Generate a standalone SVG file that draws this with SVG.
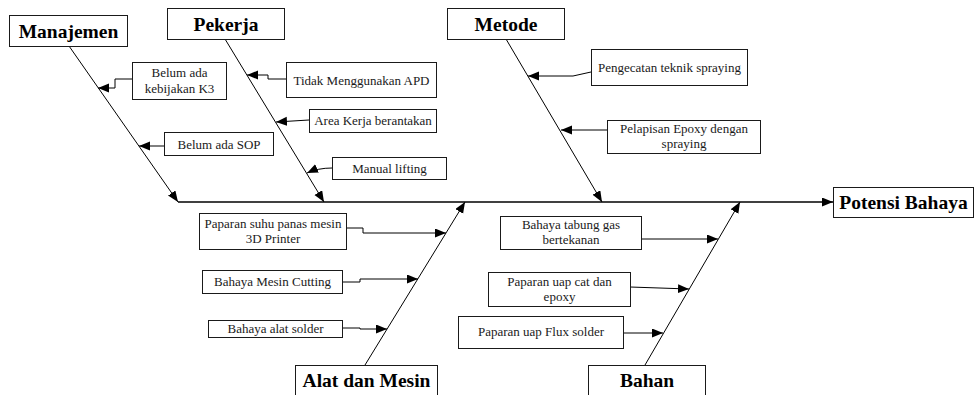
<svg xmlns="http://www.w3.org/2000/svg" width="975" height="395" viewBox="0 0 975 395">
<style>
.box{fill:#fff;stroke:#1a1a1a;stroke-width:1}
text{font-family:'Liberation Serif','Times New Roman','DejaVu Serif',serif}
.t{font-size:13px;fill:#1a1a1a;text-anchor:middle}
.h{font-size:19.5px;font-weight:bold;fill:#000;text-anchor:middle}
.ln{fill:none;stroke:#000;stroke-width:1}
.ar{fill:none;stroke:#000;stroke-width:1;marker-end:url(#ah)}
</style>
<defs>
<marker id="ah" markerUnits="userSpaceOnUse" markerWidth="12" markerHeight="10" refX="11" refY="4.5" orient="auto">
<path d="M0,0 L11,4.5 L0,9 z" fill="#000"/>
</marker>
</defs>
<rect width="975" height="395" fill="#fff"/>
<g id="connectors">
<line class="ar" x1="178" y1="202" x2="833" y2="202" style="stroke-width:1.3"/>
<line class="ar" x1="69" y1="46" x2="178" y2="202"/>
<line class="ar" x1="225" y1="39" x2="324" y2="202"/>
<line class="ar" x1="506" y1="39" x2="602" y2="202"/>
<line class="ar" x1="365" y1="365" x2="465" y2="202"/>
<line class="ar" x1="645" y1="365" x2="740" y2="202"/>
<polyline class="ar" points="132,79 115,79 115,88 98,88"/>
<polyline class="ar" points="164,146 139,146"/>
<polyline class="ar" points="286,79 268,79 268,75 247,75"/>
<polyline class="ar" points="309,120 276,122"/>
<path class="ar" d="M332,168 Q318,168 307,173"/>
<polyline class="ar" points="591,72 573,76 528,76"/>
<polyline class="ar" points="607,130 561,130"/>
<polyline class="ar" points="346,228 363,228 363,233 446,233"/>
<polyline class="ar" points="342,282 360,282 360,279 418,279"/>
<polyline class="ar" points="342,328 360,328 360,329 387,329"/>
<polyline class="ar" points="641,239 718,239"/>
<polyline class="ar" points="630,287 689,289"/>
<polyline class="ar" points="623,333 663,333"/>
</g>
<g id="manajemen"><rect class="box" x="9.5" y="15.5" width="118" height="31"/><text class="h" x="68.5" y="38" font-family="Liberation Serif, serif">Manajemen</text></g>
<g id="pekerja"><rect class="box" x="167.5" y="8.5" width="117" height="31"/><text class="h" x="226" y="31">Pekerja</text></g>
<g id="metode"><rect class="box" x="447.5" y="8.5" width="117" height="31"/><text class="h" x="506" y="31">Metode</text></g>
<g id="alat-dan-mesin"><rect class="box" x="295.5" y="365.5" width="142" height="34"/><text class="h" x="366.5" y="387">Alat dan Mesin</text></g>
<g id="bahan"><rect class="box" x="588.5" y="365.5" width="117" height="34"/><text class="h" x="647" y="387">Bahan</text></g>
<g id="potensi-bahaya"><rect class="box" x="833.5" y="187.5" width="140" height="30"/><text class="h" x="903.5" y="209">Potensi Bahaya</text></g>
<g id="c-k3"><rect class="box" x="132.5" y="62.5" width="94" height="37"/><text class="t" x="179.5" y="77">Belum  ada</text><text class="t" x="179.5" y="93">kebijakan K3</text></g>
<g id="c-sop"><rect class="box" x="164.5" y="132.5" width="109" height="23"/><text class="t" x="219" y="148.5">Belum ada SOP</text></g>
<g id="c-apd"><rect class="box" x="286.5" y="62.5" width="150" height="35"/><text class="t" x="361.5" y="84.5">Tidak Menggunakan APD</text></g>
<g id="c-area"><rect class="box" x="309.5" y="109.5" width="127" height="23"/><text class="t" x="373" y="125">Area Kerja berantakan</text></g>
<g id="c-manual"><rect class="box" x="332.5" y="157.5" width="114" height="22"/><text class="t" x="389.5" y="173">Manual lifting</text></g>
<g id="c-pengecatan"><rect class="box" x="591.5" y="49.5" width="156" height="36"/><text class="t" x="669.5" y="72">Pengecatan teknik spraying</text></g>
<g id="c-pelapisan"><rect class="box" x="607.5" y="120.5" width="153" height="33"/><text class="t" x="684" y="133">Pelapisan Epoxy dengan</text><text class="t" x="684" y="148">spraying</text></g>
<g id="c-suhu"><rect class="box" x="199.5" y="213.5" width="147" height="36"/><text class="t" x="273" y="227.5">Paparan suhu panas mesin</text><text class="t" x="273" y="242.5">3D Printer</text></g>
<g id="c-cutting"><rect class="box" x="202.5" y="270.5" width="140" height="23"/><text class="t" x="272.5" y="286">Bahaya Mesin Cutting</text></g>
<g id="c-solder"><rect class="box" x="208.5" y="320.5" width="134" height="17"/><text class="t" x="275.5" y="333">Bahaya alat solder</text></g>
<g id="c-tabung"><rect class="box" x="500.5" y="216.5" width="141" height="33"/><text class="t" x="571" y="229">Bahaya tabung gas</text><text class="t" x="571" y="244">bertekanan</text></g>
<g id="c-cat"><rect class="box" x="488.5" y="272.5" width="142" height="34"/><text class="t" x="559.5" y="286">Paparan uap cat dan</text><text class="t" x="559.5" y="301">epoxy</text></g>
<g id="c-flux"><rect class="box" x="458.5" y="316.5" width="165" height="32"/><text class="t" x="541" y="336">Paparan uap Flux solder</text></g>
</svg>
